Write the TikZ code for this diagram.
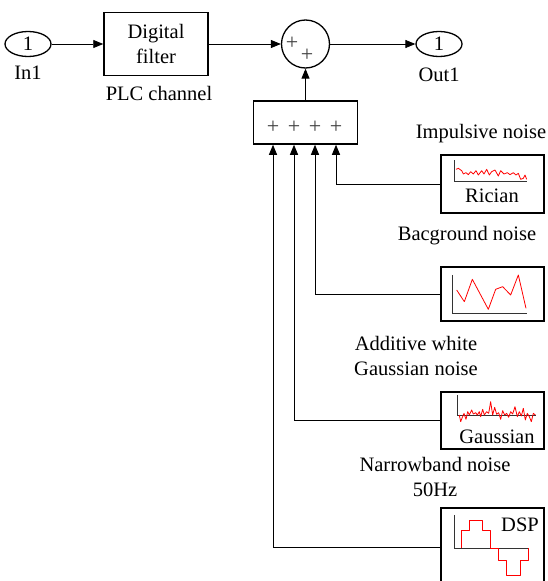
\documentclass[tikz,border=0pt]{standalone}
\usepackage{fontspec}
\setmainfont{Liberation Serif}
\usetikzlibrary{shapes.geometric,arrows.meta,positioning}

\begin{document}
\begin{tikzpicture}[x=1pt,y=-1pt,
  font=\rmfamily\fontsize{20.5}{24.5}\selectfont,
  blk/.style={draw, line width=1.5pt, inner sep=0pt},
  port/.style={ellipse, draw, line width=1.3pt, minimum width=46pt, minimum height=25pt, inner sep=0pt},
  plus/.style={font=\rmfamily\fontsize{22}{22}\selectfont, text=black!75, inner sep=0pt},
  sig/.style={line width=0.9pt, -{Triangle[length=10pt,width=8pt]}},
  axis/.style={line width=0.8pt, black!80},
  wave/.style={red, line width=0.8pt, line join=round}]
\useasboundingbox (0,0) rectangle (547,581);

% main path
\node[port] (in1) at (28,44) {1};
\node (in1lab) at (28,73) {In1};
\node[blk, minimum width=104pt, minimum height=63pt, align=center] (filt) at (156,44) {Digital\\filter};
\node (filtlab) at (159,93) {PLC channel};
\node[circle, draw, line width=1.3pt, minimum size=48pt, inner sep=0pt] (sum) at (305.5,44) {};
\node[plus] (sp1) at (292,43) {+};
\node[plus] (sp2) at (307,55) {+};
\node[port] (out1) at (439,44) {1};
\node (out1lab) at (439,75) {Out1};

\draw[sig] (in1.east) -- (filt.west);
\draw[sig] (filt.east) -- (sum.west);
\draw[sig] (sum.east) -- (out1.west);

% noise adder
\node[blk, minimum width=104pt, minimum height=43pt] (sumbox) at (305.5,122.5) {};
\foreach \i/\px in {1/273,2/294,3/315,4/336}
  \node[plus] (p\i) at (\px,127) {+};
\draw[sig] (sumbox.north) -- (sum.south);

% noise sources
\node[blk, minimum width=103pt, minimum height=58pt] (ric) at (492.5,184) {};
\node[blk, minimum width=103pt, minimum height=54pt] (bg) at (492.5,294) {};
\node[blk, minimum width=103pt, minimum height=57pt] (gau) at (492.5,420.5) {};
\node[blk, minimum width=103pt, minimum height=78pt] (dsp) at (492.5,547) {};

\node (riclab) at (481,134) {Impulsive noise};
\node (bglab) at (467,236) {Bacground noise};
\node[align=center] (gaulab) at (416,356) {Additive white\\Gaussian noise};
\node[align=center] (dsplab) at (435,477) {Narrowband noise\\50Hz};

\node (rictxt) at (492,196) {Rician};
\node (gautxt) at (497,437) {Gaussian};
\node (dsptxt) at (520,525) {DSP};

\draw[sig] (ric.west) -| (p4 |- sumbox.south);
\draw[sig] (bg.west) -| (p3 |- sumbox.south);
\draw[sig] (gau.west) -| (p2 |- sumbox.south);
\draw[sig] (dsp.west) -| (p1 |- sumbox.south);

% scope icons
\begin{scope}[shift={(430,150)}, scale=0.3333]
  \draw[axis] (73,30) -- (73,95) -- (290,95);
  \draw[wave] plot coordinates {(78,58) (85,55) (95,62) (100,72) (108,68) (115,74) (122,65)
    (130,72) (138,62) (145,75) (155,62) (162,72) (170,58) (178,75) (185,65) (195,60)
    (205,78) (212,62) (222,72) (232,68) (240,74) (250,68) (258,75) (265,70) (272,88)
    (280,85) (285,75) (290,88)};
  \draw[axis] (68,375) -- (68,490) -- (290,490);
  \draw[wave] plot coordinates {(80,420) (103,455) (127,388) (175,478) (197,418)
    (218,410) (242,435) (265,375) (288,475)};
\end{scope}
\begin{scope}[shift={(430,380)}, scale=0.3333]
  \draw[axis] (82,45) -- (82,105) -- (318,105);
  \draw[wave] plot coordinates {(88,105) (92,125) (97,112) (102,100) (108,118) (113,95)
    (118,105) (125,90) (130,102) (137,98) (142,105) (148,95) (152,110) (158,88)
    (163,105) (170,95) (176,100) (182,65) (188,105) (194,82) (200,103) (206,98)
    (212,118) (218,92) (224,105) (230,100) (236,112) (242,95) (248,102) (255,80)
    (262,110) (268,95) (274,108) (280,85) (286,120) (292,100) (298,110) (304,125)
    (310,100) (316,105)};
  \draw[axis] (73,405) -- (73,505) -- (295,505);
  \draw[wave] (95,505) -- (95,450) -- (118,450) -- (118,422) -- (158,422) -- (158,450)
    -- (182,450) -- (182,505) -- (205,505) -- (205,540) -- (228,540) -- (228,585)
    -- (272,585) -- (272,540) -- (295,540) -- (295,505);
\end{scope}
\end{tikzpicture}
\end{document}
